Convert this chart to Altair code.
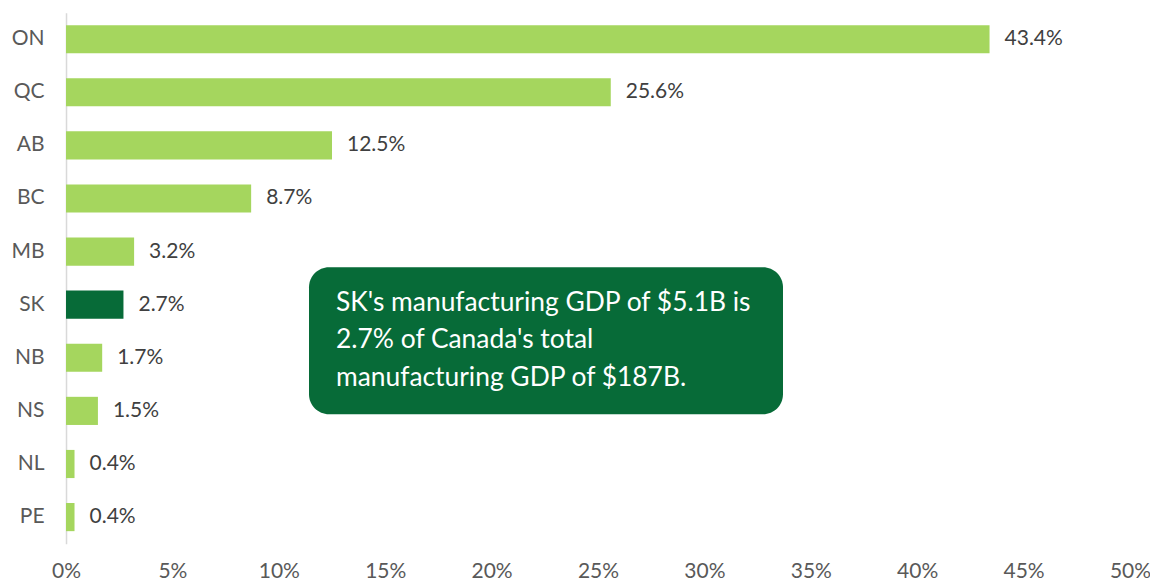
import altair as alt
import pandas as pd

provinces = ["ON", "QC", "AB", "BC", "MB", "SK", "NB", "NS", "NL", "PE"]
shares = [43.4, 25.6, 12.5, 8.7, 3.2, 2.7, 1.7, 1.5, 0.4, 0.4]
labels = ["43.4%", "25.6%", "12.5%", "8.7%", "3.2%", "2.7%", "1.7%", "1.5%", "0.4%", "0.4%"]
highlight = ["SK"]
x_ticks = [0, 5, 10, 15, 20, 25, 30, 35, 40, 45, 50]
note_lines = ["SK's manufacturing GDP of $5.1B is", "2.7% of Canada's total", "manufacturing GDP of $187B."]

LIGHT = "#A5D65E"
DARK = "#076B38"
FONT = "Lato"
LS = 21

df = pd.DataFrame({"prov": provinces, "share": shares, "label": labels})
df["hl"] = df["prov"].isin(highlight)

W, H = 1064, 531

y_enc = alt.Y("prov:N", sort=provinces, title=None,
              scale=alt.Scale(paddingInner=0.47, paddingOuter=0.235),
              axis=alt.Axis(domainColor="#D9D9D9", domainWidth=1.5, ticks=False,
                            labelPadding=22, labelFontSize=LS, labelColor="#595959",
                            labelFont=FONT))
x_enc = alt.X("share:Q", title=None,
              scale=alt.Scale(domain=[0, 50], nice=False),
              axis=alt.Axis(values=x_ticks, domain=False, ticks=False, grid=False,
                            labelExpr="datum.value + '%'", labelPadding=17,
                            labelFontSize=LS, labelColor="#595959", labelFont=FONT,
                            labelFlush=False))

bars = alt.Chart(df).mark_bar().encode(
    x=x_enc, y=y_enc,
    color=alt.condition(alt.datum.hl, alt.value(DARK), alt.value(LIGHT)),
)
texts = alt.Chart(df).mark_text(align="left", baseline="middle", dx=15, fontSize=LS,
                                color="#404040", font=FONT).encode(
    x="share:Q", y=alt.Y("prov:N", sort=provinces), text="label:N")

box = alt.Chart(pd.DataFrame({"a": [0]})).mark_rect(color=DARK, cornerRadius=20).encode(
    x=alt.value(243), x2=alt.value(717), y=alt.value(254.5), y2=alt.value(401.5))

note = alt.Chart(pd.DataFrame({"t": [note_lines]})).mark_text(
    align="left", baseline="middle", fontSize=26.4, color="white", font=FONT,
    lineHeight=37.5).encode(x=alt.value(270), y=alt.value(290), text="t")

chart = alt.layer(bars, texts, box, note).properties(
    width=W, height=H,
    background="white",
    autosize=alt.AutoSizeParams(type="none"),
    padding={"left": 58, "top": 4.65, "right": 20, "bottom": 39},
).configure_view(strokeWidth=0, stroke="transparent")

chart.save("out.html", embed_options={"renderer": "svg", "actions": False})
